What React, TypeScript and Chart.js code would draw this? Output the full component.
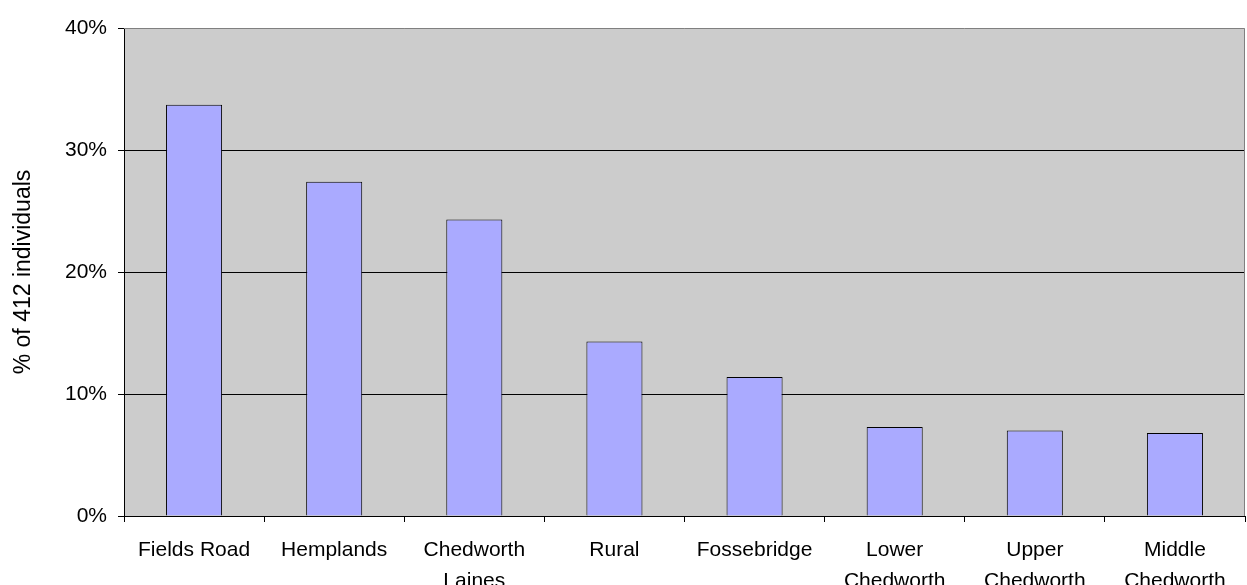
import React, { useEffect, useRef } from "react";
import { Chart, registerables } from "chart.js";

Chart.register(...registerables);

const categories: string[][] = [
  ["Fields Road"],
  ["Hemplands"],
  ["Chedworth", "Laines"],
  ["Rural"],
  ["Fossebridge"],
  ["Lower", "Chedworth"],
  ["Upper", "Chedworth"],
  ["Middle", "Chedworth"],
];
const percentValues: number[] = [33.7, 27.4, 24.3, 14.3, 11.4, 7.3, 7.0, 6.8];
const yTicks: number[] = [0, 10, 20, 30, 40];
const yTitle = "% of 412 individuals";

const FONT = "'Liberation Sans', Arial, sans-serif";

const plotBg = {
  id: "plotBg",
  beforeDraw(chart: any) {
    const { ctx, chartArea } = chart;
    ctx.save();
    ctx.fillStyle = "#cccccc";
    ctx.fillRect(chartArea.left, chartArea.top, chartArea.right - chartArea.left, chartArea.bottom - chartArea.top);
    ctx.restore();
  },
  afterDatasetsDraw(chart: any) {
    const { ctx, chartArea } = chart;
    ctx.save();
    ctx.strokeStyle = "#808080";
    ctx.lineWidth = 1;
    ctx.beginPath();
    ctx.moveTo(chartArea.left, chartArea.top + 0.5);
    ctx.lineTo(chartArea.right - 0.5, chartArea.top + 0.5);
    ctx.lineTo(chartArea.right - 0.5, chartArea.bottom);
    ctx.stroke();
    ctx.restore();
  },
};

export default function App() {
  const ref = useRef<HTMLCanvasElement | null>(null);
  useEffect(() => {
    document.body.style.margin = "0";
    const c = ref.current;
    if (!c) return;
    const chart = new Chart(c, {
      type: "bar",
      data: {
        labels: categories,
        datasets: [
          {
            data: percentValues,
            backgroundColor: "#aaaaff",
            borderColor: "#000000",
            borderWidth: 1,
            categoryPercentage: 0.8,
            barPercentage: 0.5,
          },
        ],
      },
      options: {
        animation: false,
        responsive: false,
        devicePixelRatio: 1,
        layout: { padding: { left: 10, top: 28, right: 2, bottom: 0 } },
        plugins: { legend: { display: false }, tooltip: { enabled: false } },
        scales: {
          x: {
            afterFit: (s: any) => {
              s.height = 69;
            },
            grid: {
              offset: true,
              drawOnChartArea: false,
              drawTicks: true,
              tickLength: 6,
              tickColor: "#000000",
            },
            border: { color: "#000000", width: 1 },
            ticks: {
              color: "#000000",
              font: { family: FONT, size: 21, lineHeight: 1.5 },
              padding: 12,
              maxRotation: 0,
              autoSkip: false,
            },
          },
          y: {
            min: 0,
            max: 40,
            afterFit: (s: any) => {
              s.width = 114;
            },
            afterBuildTicks: (s: any) => {
              s.ticks = yTicks.map((v) => ({ value: v }));
            },
            grid: {
              color: (ctx: any) => (ctx.tick && ctx.tick.value === 40 ? "rgba(0,0,0,0)" : "#000000"),
              tickColor: "#000000",
              tickLength: 6,
              lineWidth: 1,
            },
            border: { color: "#000000", width: 1 },
            ticks: {
              color: "#000000",
              font: { family: FONT, size: 21 },
              padding: 11,
              callback: (v: any) => v + "%",
            },
            title: {
              display: true,
              text: yTitle,
              color: "#000000",
              font: { family: FONT, size: 23 },
              padding: 0,
            },
          },
        },
      },
      plugins: [plotBg],
    });
    return () => chart.destroy();
  }, []);
  return (
    <div style={{ position: "absolute", left: 0, top: 0, width: 1247, height: 585, background: "#fff" }}>
      <canvas ref={ref} width={1247} height={585} />
    </div>
  );
}
